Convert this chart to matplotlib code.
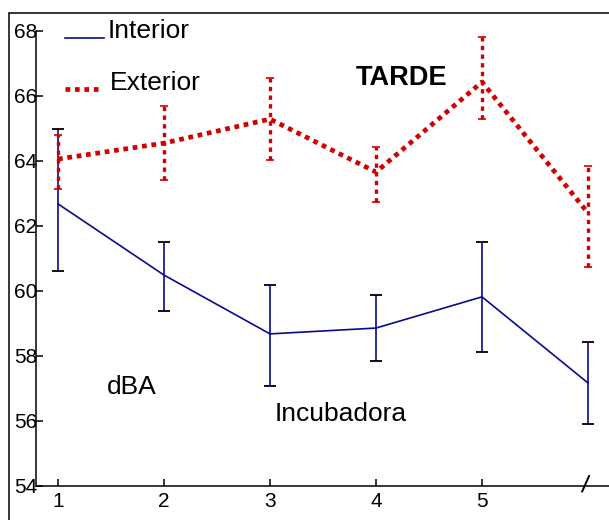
import matplotlib.pyplot as plt
from matplotlib.lines import Line2D
from matplotlib.patches import Rectangle

plt.rcParams['font.family'] = ['Liberation Sans', 'DejaVu Sans']

# datos (dBA)
periodos = [1, 2, 3, 4, 5, 6]
etiquetas_x = ['1', '2', '3', '4', '5']

interior = [62.68, 60.49, 58.68, 58.86, 59.82, 57.17]
interior_inf = [60.62, 59.40, 57.08, 57.85, 58.12, 55.91]
interior_sup = [64.98, 61.50, 60.20, 59.88, 61.50, 58.43]

exterior = [64.06, 64.55, 65.29, 63.66, 66.43, 62.40]
exterior_inf = [63.14, 63.42, 64.03, 62.74, 65.29, 60.74]
exterior_sup = [64.80, 65.69, 66.55, 64.43, 67.82, 63.85]

azul = '#0A0A8C'
rojo = '#D00000'

fig = plt.figure(figsize=(6.09, 5.2), dpi=100)
ax = fig.add_axes([36 / 609, 34 / 520, 573 / 609, 455 / 520])

# Interior (linea continua azul)
err_i = [[m - lo for m, lo in zip(interior, interior_inf)],
         [hi - m for m, hi in zip(interior, interior_sup)]]
ln, caps, barras = ax.errorbar(periodos, interior, yerr=err_i, color=azul, lw=1.2,
                               ecolor=azul, elinewidth=1.2, capsize=4, capthick=1.3, zorder=3)
for c in caps:
    c.set_color('black')
    c.set_markeredgecolor('black')

# Exterior (linea punteada roja)
err_e = [[m - lo for m, lo in zip(exterior, exterior_inf)],
         [hi - m for m, hi in zip(exterior, exterior_sup)]]
ln2, caps2, barras2 = ax.errorbar(periodos, exterior, yerr=err_e, color=rojo, lw=3.4,
                                  ecolor=rojo, elinewidth=2.4, capsize=3, capthick=1.2, zorder=4)
ln2.set_dashes((1, 1))
ln2.set_dash_capstyle('butt')
for b in barras2:
    b.set_linestyle((0, (1.3, 1.3)))

ax.set_xlim(0.7925, 6.198)
ax.set_ylim(54, 68)
ax.set_xticks(periodos[:5])
ax.set_xticklabels(etiquetas_x)
ax.set_yticks(range(54, 69, 2))
ax.tick_params(axis='both', direction='in', length=5, width=1.1, labelsize=15)
ax.tick_params(axis='y', pad=-1)
ax.tick_params(axis='x', pad=4)
for lado in ['top', 'right']:
    ax.spines[lado].set_visible(False)
for lado in ['left', 'bottom']:
    ax.spines[lado].set_linewidth(1.1)

# marca de corte del eje x
ax.plot([5.945, 6.01], [-0.012, 0.022], color='black', lw=1.4,
        transform=ax.get_xaxis_transform(), clip_on=False)

# textos
ax.text(107 / 609, 1 - 387 / 520, 'dBA', transform=fig.transFigure, fontsize=19,
        ha='left', va='center')
ax.text(275 / 609, 1 - 414 / 520, 'Incubadora', transform=fig.transFigure, fontsize=19,
        ha='left', va='center')
ax.text(356 / 609, 1 - 78 / 520, 'TARDE', transform=fig.transFigure, fontsize=19.5,
        fontweight='bold', ha='left', va='center')

# leyenda manual
fig.add_artist(Line2D([65 / 609, 104 / 609], [1 - 38 / 520] * 2, color=azul, lw=1.2))
fig.text(108 / 609, 1 - 38 / 520, 'Interior', fontsize=19, ha='left', va='baseline')
fig.add_artist(Line2D([65 / 609, 98 / 609], [1 - 89 / 520] * 2, color=rojo, lw=3.4,
                      dashes=(1, 1), dash_capstyle='butt'))
fig.text(110 / 609, 1 - 90 / 520, 'Exterior', fontsize=19, ha='left', va='baseline')

# marco exterior
fig.add_artist(Rectangle((9 / 609, -0.1), 1.2, 1.1 - 13 / 520, transform=fig.transFigure,
                         fill=False, edgecolor='black', lw=1.1))

fig.savefig('out.png', dpi=100)
